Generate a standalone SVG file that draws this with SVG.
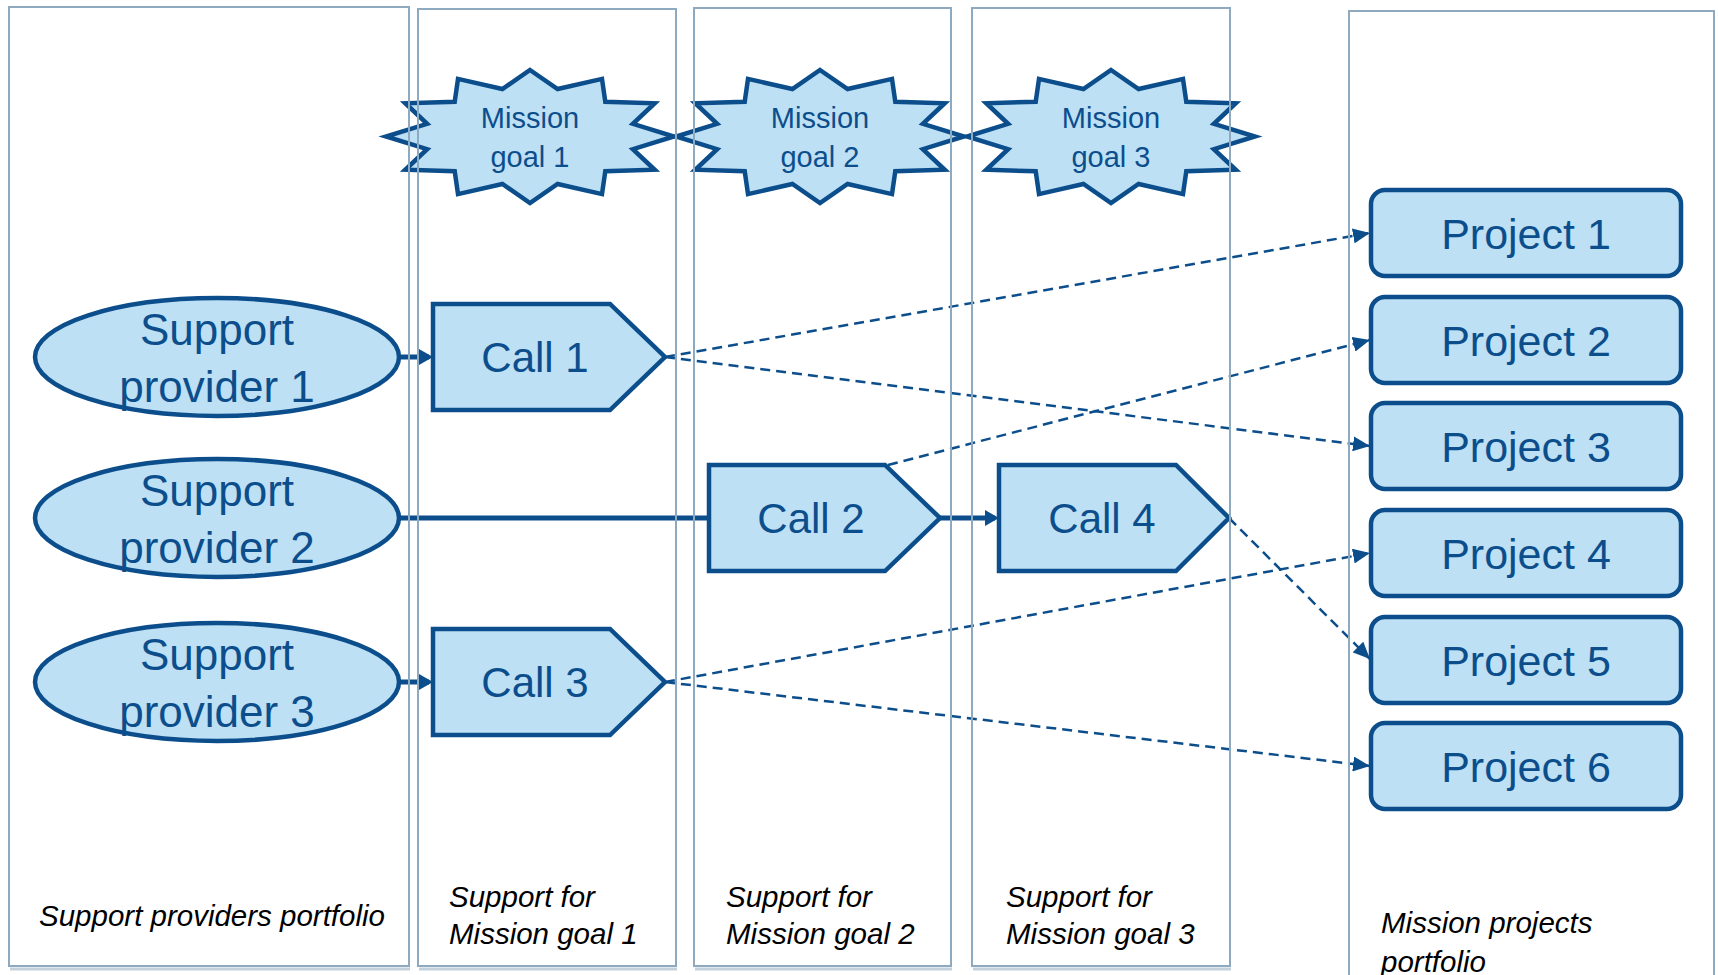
<svg xmlns="http://www.w3.org/2000/svg" width="1718" height="975" viewBox="0 0 1718 975">
<defs>
<style>
.shape{fill:#bde0f5;stroke:#0c4e8c;stroke-width:4.5;stroke-linejoin:miter}
.lbl{font-family:"Liberation Sans",Arial,sans-serif;fill:#0c4e8c;text-anchor:middle}
.lane{fill:none;stroke:#8eaac1;stroke-width:2}
.lanesh{stroke:#c3d1dd;stroke-width:3}
.cap{font-family:"Liberation Sans",Arial,sans-serif;font-style:italic;font-size:29.5px;fill:#000}
.solid{stroke:#0c4e8c;stroke-width:5;fill:none}
.dash{stroke:#0c4e8c;stroke-width:2.5;stroke-dasharray:10 6;fill:none}
</style>
<marker id="ah" markerUnits="userSpaceOnUse" markerWidth="17" markerHeight="15" refX="17" refY="7.5" orient="auto"><path d="M0,0 L17,7.5 L0,15 z" fill="#0c4e8c"/></marker>
<marker id="ahs" markerUnits="userSpaceOnUse" markerWidth="14" markerHeight="16" refX="10" refY="8" orient="auto"><path d="M0,0 L14,8 L0,16 z" fill="#0c4e8c"/></marker>
<polygon id="star" class="shape" points="0,-66.5 27.6,-47.5 72,-57.6 75.3,-34.8 124.7,-33.25 102.9,-12.7 144,0 102.9,12.7 124.7,33.25 75.3,34.8 72,57.6 27.6,47.5 0,66.5 -27.6,47.5 -72,57.6 -75.3,34.8 -124.7,33.25 -102.9,12.7 -144,0 -102.9,-12.7 -124.7,-33.25 -75.3,-34.8 -72,-57.6 -27.6,-47.5"/>
</defs>
<rect width="1718" height="975" fill="#fff"/>

<g id="goal1"><use href="#star" transform="translate(530,136.5)"/><text class="lbl" font-size="29" x="530" y="128">Mission</text><text class="lbl" font-size="29" x="530" y="167">goal 1</text></g>
<g id="goal2"><use href="#star" transform="translate(820,136.5)"/><text class="lbl" font-size="29" x="820" y="128">Mission</text><text class="lbl" font-size="29" x="820" y="167">goal 2</text></g>
<g id="goal3"><use href="#star" transform="translate(1111,136.5)"/><text class="lbl" font-size="29" x="1111" y="128">Mission</text><text class="lbl" font-size="29" x="1111" y="167">goal 3</text></g>

<g id="connectors">
<path class="solid" d="M399,357 L429,357" marker-end="url(#ahs)"/>
<path class="solid" d="M399,518 L709,518"/>
<path class="solid" d="M940,518 L995,518" marker-end="url(#ahs)"/>
<path class="solid" d="M399,682 L429,682" marker-end="url(#ahs)"/>
<path class="dash" d="M665,357 L1370,233" marker-end="url(#ah)"/>
<path class="dash" d="M665,357 L1370,446" marker-end="url(#ah)"/>
<path class="dash" d="M888,465 L1370,340" marker-end="url(#ah)"/>
<path class="dash" d="M1229,518 L1370,659" marker-end="url(#ah)"/>
<path class="dash" d="M665,682 L1370,553" marker-end="url(#ah)"/>
<path class="dash" d="M665,682 L1370,766" marker-end="url(#ah)"/>
</g>

<g id="provider1"><ellipse class="shape" cx="217" cy="357" rx="182" ry="59"/><text class="lbl" font-size="44" x="217" y="345">Support</text><text class="lbl" font-size="44" x="217" y="402">provider 1</text></g>
<g id="provider2"><ellipse class="shape" cx="217" cy="518" rx="182" ry="59"/><text class="lbl" font-size="44" x="217" y="506">Support</text><text class="lbl" font-size="44" x="217" y="563">provider 2</text></g>
<g id="provider3"><ellipse class="shape" cx="217" cy="682" rx="182" ry="59"/><text class="lbl" font-size="44" x="217" y="670">Support</text><text class="lbl" font-size="44" x="217" y="727">provider 3</text></g>

<g id="call1"><polygon class="shape" points="433,304 610,304 665,357 610,410 433,410"/><text class="lbl" font-size="42" x="535" y="372">Call 1</text></g>
<g id="call2"><polygon class="shape" points="709,465 885,465 940,518 885,571 709,571"/><text class="lbl" font-size="42" x="811" y="533">Call 2</text></g>
<g id="call4"><polygon class="shape" points="999,465 1176,465 1229,518 1176,571 999,571"/><text class="lbl" font-size="42" x="1102" y="533">Call 4</text></g>
<g id="call3"><polygon class="shape" points="433,629 610,629 665,682 610,735 433,735"/><text class="lbl" font-size="42" x="535" y="697">Call 3</text></g>

<g id="project1"><rect class="shape" x="1371" y="190" width="310" height="86" rx="14"/><text class="lbl" font-size="43" x="1526" y="249">Project 1</text></g>
<g id="project2"><rect class="shape" x="1371" y="297" width="310" height="86" rx="14"/><text class="lbl" font-size="43" x="1526" y="356">Project 2</text></g>
<g id="project3"><rect class="shape" x="1371" y="403" width="310" height="86" rx="14"/><text class="lbl" font-size="43" x="1526" y="462">Project 3</text></g>
<g id="project4"><rect class="shape" x="1371" y="510" width="310" height="86" rx="14"/><text class="lbl" font-size="43" x="1526" y="569">Project 4</text></g>
<g id="project5"><rect class="shape" x="1371" y="617" width="310" height="86" rx="14"/><text class="lbl" font-size="43" x="1526" y="676">Project 5</text></g>
<g id="project6"><rect class="shape" x="1371" y="723" width="310" height="86" rx="14"/><text class="lbl" font-size="43" x="1526" y="782">Project 6</text></g>

<g id="lanes">
<g id="lane-providers"><line class="lanesh" x1="10" y1="969" x2="410" y2="969"/><rect class="lane" x="9" y="7" width="400" height="959"/><text class="cap" x="39" y="926">Support providers portfolio</text></g>
<g id="lane-goal1"><line class="lanesh" x1="419" y1="969" x2="677" y2="969"/><rect class="lane" x="418" y="9" width="258" height="957"/><text class="cap" x="449" y="907">Support for</text><text class="cap" x="449" y="944">Mission goal 1</text></g>
<g id="lane-goal2"><line class="lanesh" x1="695" y1="969" x2="952" y2="969"/><rect class="lane" x="694" y="8" width="257" height="958"/><text class="cap" x="726" y="907">Support for</text><text class="cap" x="726" y="944">Mission goal 2</text></g>
<g id="lane-goal3"><line class="lanesh" x1="973" y1="969" x2="1231" y2="969"/><rect class="lane" x="972" y="8" width="258" height="958"/><text class="cap" x="1006" y="907">Support for</text><text class="cap" x="1006" y="944">Mission goal 3</text></g>
<g id="lane-projects"><rect class="lane" x="1349" y="11" width="365" height="990"/><text class="cap" x="1381" y="933">Mission projects</text><text class="cap" x="1381" y="972">portfolio</text></g>
</g>
</svg>
